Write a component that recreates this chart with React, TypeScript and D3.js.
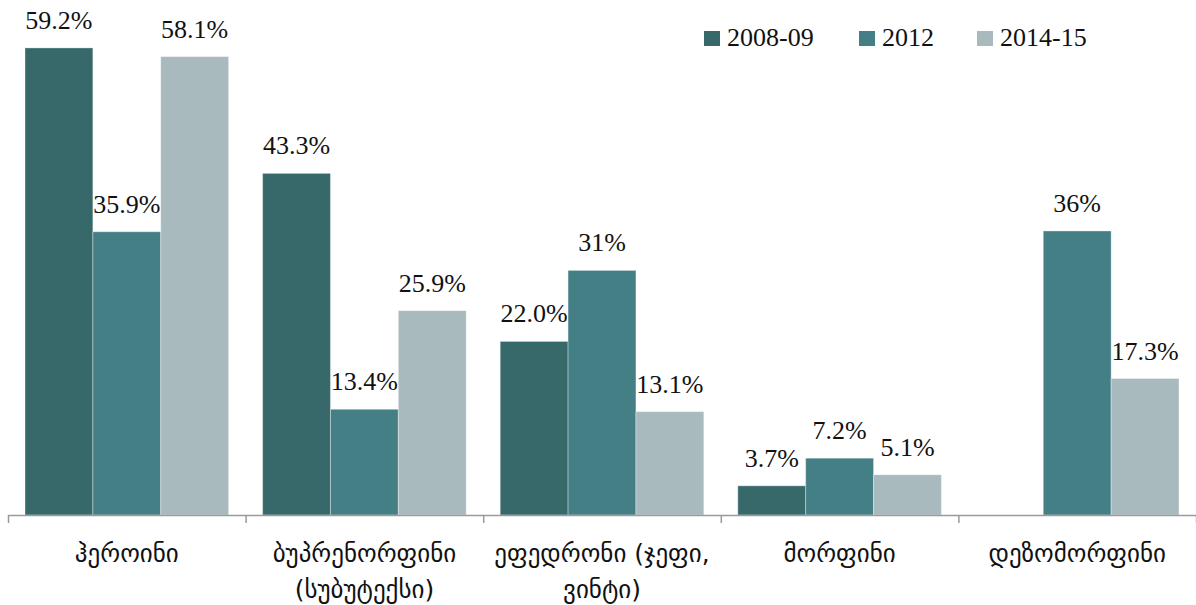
import React from 'react';
import * as d3 from 'd3';

const categories = ['heroin', 'buprenorphine', 'ephedrone', 'morphine', 'desomorphine'];
const categoryLabels = [
    ['ჰეროინი'],
    ['ბუპრენორფინი', '(სუბუტექსი)'],
    ['ეფედრონი (ჯეფი,', 'ვინტი)'],
    ['მორფინი'],
    ['დეზომორფინი'],
];
const seriesNames = ['2008-09', '2012', '2014-15'];
const seriesColors = ['#37696b', '#447f85', '#a8babd'];
const values2008 = [59.2, 43.3, 22.0, 3.7, null];
const values2012 = [35.9, 13.4, 31, 7.2, 36];
const values2014 = [58.1, 25.9, 13.1, 5.1, 17.3];
const labels2008 = ['59.2%', '43.3%', '22.0%', '3.7%', null];
const labels2012 = ['35.9%', '13.4%', '31%', '7.2%', '36%'];
const labels2014 = ['58.1%', '25.9%', '13.1%', '5.1%', '17.3%'];

const seriesValues = [values2008, values2012, values2014];
const seriesLabels = [labels2008, labels2012, labels2014];

const W = 1196;
const H = 605;
const baseY = 515;
const serif = '"Liberation Serif", "Times New Roman", serif';
const georgian = '"DejaVu Sans", sans-serif';

export default function App() {
    const x0 = d3.scaleBand<string>().domain(categories).range([8, 1196]);
    const x1 = d3.scaleBand<string>().domain(seriesNames).range([17, x0.bandwidth() - 17]);
    const y = d3.scaleLinear().domain([0, 65]).range([baseY, baseY - 65 * 7.89]);

    const ticks = categories.map(c => x0(c) ?? 0).concat([1196]);

    return (
        <svg width={W} height={H} style={{ position: 'absolute', left: 0, top: 0, background: '#fff' }}>
            {/* bars */}
            {seriesNames.map((s, si) => (
                <g key={s}>
                    {categories.map((c, ci) => {
                        const v = seriesValues[si][ci];
                        if (v == null) return null;
                        const bx = (x0(c) ?? 0) + (x1(s) ?? 0);
                        return (
                            <rect key={c} x={bx} y={y(v)} width={x1.bandwidth()} height={baseY - y(v)}
                                fill={seriesColors[si]} stroke="#fff" strokeOpacity={0.35} strokeWidth={1} />
                        );
                    })}
                </g>
            ))}

            {/* value labels */}
            {seriesNames.map((s, si) => (
                <g key={s + '-lab'}>
                    {categories.map((c, ci) => {
                        const v = seriesValues[si][ci];
                        const t = seriesLabels[si][ci];
                        if (v == null || t == null) return null;
                        const cx = (x0(c) ?? 0) + (x1(s) ?? 0) + x1.bandwidth() / 2;
                        return (
                            <text key={c} x={cx} y={y(v) - 19} textAnchor="middle"
                                fontFamily={serif} fontSize={26} fill="#111">{t}</text>
                        );
                    })}
                </g>
            ))}

            {/* axis */}
            <line x1={8} x2={1196} y1={baseY + 0.5} y2={baseY + 0.5} stroke="#9a9a9a" strokeWidth={1.5} />
            {ticks.map((t, i) => (
                <line key={i} x1={t + 0.5} x2={t + 0.5} y1={baseY} y2={baseY + 8} stroke="#9a9a9a" strokeWidth={1.5} />
            ))}

            {/* category labels */}
            {categories.map((c, ci) => (
                <text key={c} textAnchor="middle" fontFamily={georgian} fontSize={25} fill="#111">
                    {categoryLabels[ci].map((line, li) => (
                        <tspan key={li} x={(x0(c) ?? 0) + x0.bandwidth() / 2} y={562 + li * 36}>{line}</tspan>
                    ))}
                </text>
            ))}

            {/* legend */}
            {seriesNames.map((s, si) => {
                const lx = [704, 859, 977][si];
                return (
                    <g key={s + '-leg'} transform={`translate(${lx},31)`}>
                        <rect x={0} y={0} width={16} height={15} fill={seriesColors[si]} />
                        <text x={23} y={15} fontFamily={serif} fontSize={26} fill="#111">{s}</text>
                    </g>
                );
            })}
        </svg>
    );
}
